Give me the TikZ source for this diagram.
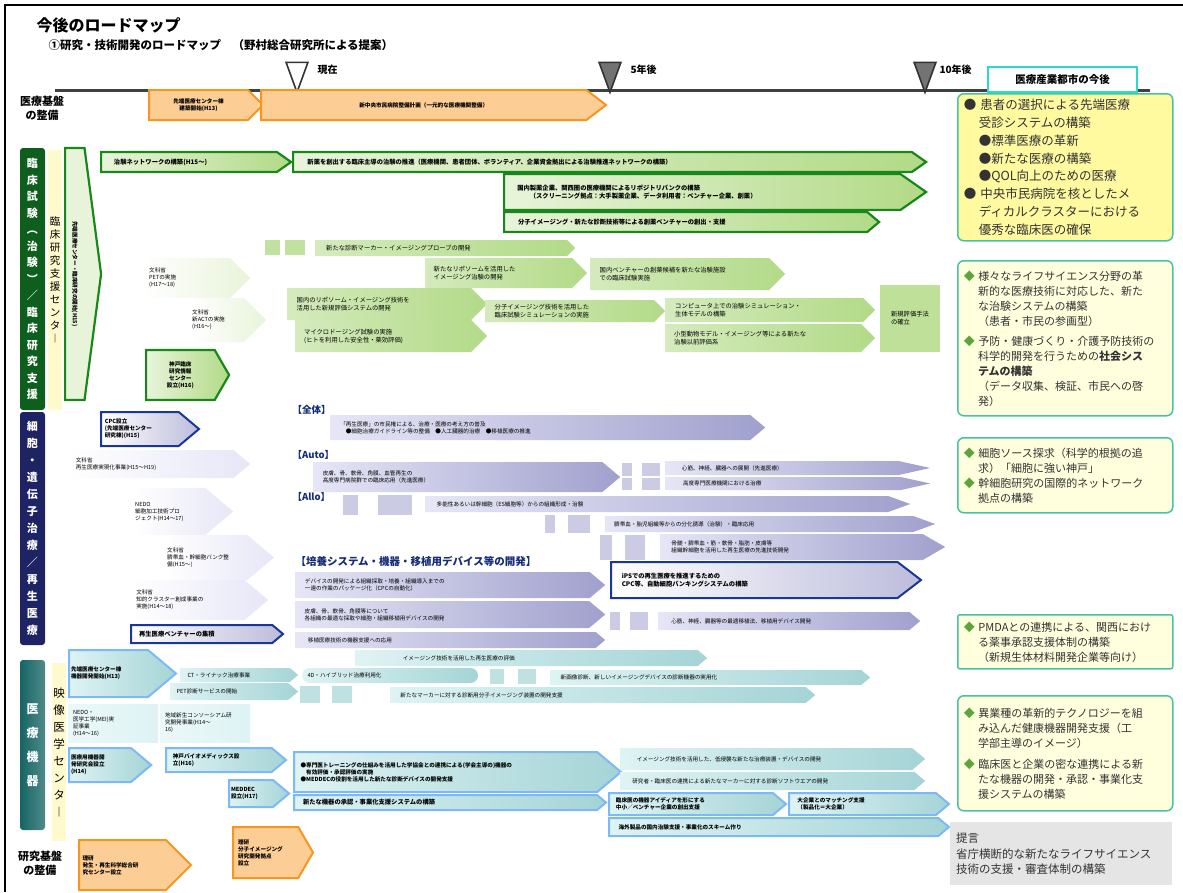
\documentclass[tikz,border=0pt]{standalone}
\usepackage{fontspec}
\setmainfont{Noto Sans CJK JP}
\usepackage{tikz}
\usetikzlibrary{shapes,shapes.symbols,shapes.geometric,positioning}
\definecolor{dgreen}{RGB}{14,95,30}
\definecolor{mgreen}{RGB}{25,135,25}
\definecolor{lgreen}{RGB}{178,218,135}
\definecolor{pgreen}{RGB}{232,244,218}
\definecolor{bgreen}{RGB}{90,165,60}
\definecolor{navy}{RGB}{30,35,100}
\definecolor{nborder}{RGB}{25,55,150}
\definecolor{lav}{RGB}{160,160,205}
\definecolor{plav}{RGB}{230,230,247}
\definecolor{dteal}{RGB}{22,100,100}
\definecolor{cborder}{RGB}{125,185,245}
\definecolor{lcyan}{RGB}{165,212,214}
\definecolor{pcyan}{RGB}{222,243,244}
\definecolor{orng}{RGB}{245,150,30}
\definecolor{lorng}{RGB}{253,205,150}
\definecolor{ryellow}{RGB}{255,250,160}
\definecolor{pyellow}{RGB}{255,255,222}
\definecolor{rteal}{RGB}{70,195,165}
\definecolor{strip}{RGB}{255,250,205}
\newcommand{\jpxs}{\fontsize{5.6}{7}\selectfont}
\newcommand{\jps}{\fontsize{6.3}{8}\selectfont}
\newcommand{\jpm}{\fontsize{11}{15}\selectfont}
\newcommand{\gdia}{\textcolor{bgreen}{◆}\ }
\tikzstyle{sect} = [rectangle, rounded corners=3pt, text=white, align=center, font=\fontsize{11}{16.5}\selectfont\bfseries]
\tikzstyle{stripbox} = [rectangle, fill=strip, align=center, inner sep=0pt]
\tikzstyle{obar} = [signal, signal to=east, anchor=west, signal pointer angle=90, draw=orng, line width=2pt, fill=lorng, font=\jpxs\bfseries, align=center, inner sep=2pt]
\tikzstyle{gbar} = [signal, signal to=east, anchor=west, signal pointer angle=70, draw=mgreen, line width=2.2pt, left color=pgreen, right color=lgreen, font=\jps\bfseries, align=left, inner sep=2pt]
\tikzstyle{lgbar} = [signal, signal to=east, anchor=west, signal pointer angle=90, left color=lgreen!55, right color=lgreen, font=\jps, align=left, inner sep=2pt]
\tikzstyle{lgsq} = [rectangle, fill=lgreen!80, inner sep=0pt]
\tikzstyle{nbar} = [signal, signal to=east, anchor=west, signal pointer angle=80, draw=nborder, line width=2pt, left color=white, right color=lav!70, font=\jps\bfseries, align=left, inner sep=2pt]
\tikzstyle{lbar} = [signal, signal to=east, anchor=west, signal pointer angle=80, left color=plav, right color=lav, font=\jps, align=left, inner sep=2pt]
\tikzstyle{pbar} = [signal, signal to=east, anchor=west, signal pointer angle=80, left color=white, right color=plav, font=\jps, align=left, inner sep=2pt]
\tikzstyle{lsq} = [rectangle, fill=lav!55, inner sep=0pt]
\tikzstyle{cbar} = [signal, signal to=east, anchor=west, signal pointer angle=80, draw=cborder, line width=2pt, left color=pcyan, right color=lcyan, font=\jps\bfseries, align=left, inner sep=2pt]
\tikzstyle{kbar} = [signal, signal to=east, anchor=west, signal pointer angle=80, left color=pcyan, right color=lcyan, font=\jps, align=left, inner sep=2pt]
\tikzstyle{ksq} = [rectangle, fill=lcyan!70, inner sep=0pt]
\tikzstyle{rbox} = [rectangle, rounded corners=6pt, draw=rteal, line width=1.5pt, fill=pyellow, anchor=north west, align=left, font=\jpm, text=black!80, inner sep=6pt]
\tikzstyle{yearmark} = [isosceles triangle, shape border rotate=270, isosceles triangle apex angle=40, minimum height=30pt, draw=black!80, line width=1.6pt, inner sep=0pt]
\tikzstyle{tlabel} = [font=\fontsize{10}{11}\selectfont\bfseries]
\tikzstyle{hlabel} = [anchor=west, font=\fontsize{9.5}{11}\selectfont\bfseries, text=nborder!80!black]

\begin{document}
\begin{tikzpicture}[x=1pt,y=-1pt]
\useasboundingbox (0,0) rectangle (1183,892);

% frame and titles =============================
\draw[line width=2pt] (1183,5) -- (5,5) -- (5,892);
\node[anchor=west, font=\fontsize{16}{18}\selectfont\bfseries] (title) at (33,25) {今後のロードマップ};
\node[anchor=west, font=\fontsize{11.5}{13}\selectfont\bfseries] (subtitle) at (45,45) {①研究・技術開発のロードマップ　（野村総合研究所による提案）};

% timeline
\coordinate (tl0) at (55,90);
\coordinate (tl1) at (1150,90);
\draw[line width=3pt, black!75] (tl0) -- (tl1);
\node[yearmark, fill=white] (now) at (297,70) {};
\node[yearmark, fill=black!55] (y5) at (610,70) {};
\node[yearmark, fill=black!55] (y10) at (925,70) {};
\node[tlabel, right=8pt of now] {現在};
\node[tlabel, right=8pt of y5] {5年後};
\node[tlabel, right=2pt of y10] {10年後};
\node[draw=rteal!60!cyan, line width=2pt, fill=white, minimum width=149pt, minimum height=25pt, font=\fontsize{10.5}{12}\selectfont\bfseries] (future) at (1062.5,79.5) {医療産業都市の今後};

% section labels =============================
\node[font=\fontsize{11}{14}\selectfont\bfseries, align=center] (base1) at (42,108) {医療基盤\\の整備};
\node[font=\fontsize{11}{14}\selectfont\bfseries, align=center] (base2) at (40,863) {研究基盤\\の整備};
\node[sect, fill=dgreen, minimum width=25pt, minimum height=262pt] (secclin) at (32.5,279) {臨\\床\\試\\験\\︵\\治\\験\\︶\\／\\臨\\床\\研\\究\\支\\援};
\node[sect, fill=navy, minimum width=25pt, minimum height=233pt, font=\fontsize{11}{17}\selectfont\bfseries] (seccell) at (32.5,528.5) {細\\胞\\・\\遺\\伝\\子\\治\\療\\／\\再\\生\\医\\療};
\node[sect, left color=dteal, right color=dteal!75, minimum width=25pt, minimum height=170pt, font=\fontsize{12}{24}\selectfont\bfseries] (secdev) at (32.5,745) {医\\療\\機\\器};
\node[stripbox, minimum width=14pt, minimum height=260pt, font=\fontsize{10.5}{13}\selectfont] (crsc) at (55,280) {臨\\床\\研\\究\\支\\援\\セ\\ン\\タ\\︱};
\node[stripbox, minimum width=14pt, minimum height=178pt, font=\fontsize{11.5}{17}\selectfont] (imgc) at (59,752) {映\\像\\医\\学\\セ\\ン\\タ\\︱};

% medical base (orange) =============================
\node[obar, minimum width=114pt, minimum height=30pt] (o1) at (148,105) {先端医療センター棟\\建築開始(H13)};
\node[obar, minimum width=345pt, minimum height=30pt, signal pointer angle=75] (o2) at (260,105) {新中央市民病院整備計画（一元的な医療機関整備）};

% clinical trials (green) =============================
\node[signal, signal to=east, anchor=west, signal pointer angle=165, draw=mgreen, line width=2.2pt, fill=pgreen, minimum width=36pt, minimum height=252pt] (gv) at (64,274) {};
\node[rotate=-90, font=\jpxs\bfseries] (gvtext) at (gv.center) {先端医療センター・臨床研究の開始(H15)};
\node[gbar, minimum width=190pt, minimum height=20pt, text width=150pt] (g1) at (100,162) {治験ネットワークの構築(H15〜)};
\node[gbar, minimum width=633pt, minimum height=20pt, text width=590pt] (g2) at (292,162) {新薬を創出する臨床主導の治験の推進（医療機関、患者団体、ボランティア、企業資金拠出による治験推進ネットワークの構築）};
\node[gbar, minimum width=422pt, minimum height=36pt, text width=370pt] (g3) at (503,192) {国内製薬企業、関西圏の医療機関によるリポジトリバンクの構築\\\hspace{2em}（スクリーニング拠点：大手製薬企業、データ利用者：ベンチャー企業、創薬）};
\node[gbar, minimum width=375pt, minimum height=20pt, text width=335pt, signal pointer angle=80] (g4) at (503,222) {分子イメージング・新たな診断技術等による創薬ベンチャーの創出・支援};
\node[gbar, minimum width=83pt, minimum height=50pt, signal pointer angle=120, align=center, font=\jpxs\bfseries] (gk) at (145,375) {神戸臨床\\研究情報\\センター\\設立(H16)};

\node[lgsq, minimum width=15pt, minimum height=15pt] (lgs1) at (272.5,247.5) {};
\node[lgsq, minimum width=20pt, minimum height=15pt] (lgs2) at (295,247.5) {};
\node[lgbar, minimum width=260pt, minimum height=16pt, text width=230pt] (lg1) at (315,248) {新たな診断マーカー・イメージングプローブの開発};
\node[lgbar, left color=white, right color=pgreen, minimum width=107pt, minimum height=40pt, text width=75pt, font=\jpxs] (lg2) at (143,278) {文科省\\PETの実施\\(H17〜18)};
\node[lgbar, minimum width=162pt, minimum height=30pt, text width=130pt] (lg3) at (425,273) {新たなリポソームを活用した\\イメージング治験の開発};
\node[lgbar, minimum width=195pt, minimum height=32pt, text width=160pt] (lg4) at (590,274) {国内ベンチャーの創薬候補を新たな治験施設\\での臨床試験実施};
\node[lgbar, left color=white, right color=pgreen, minimum width=75pt, minimum height=44pt, text width=50pt, font=\jpxs] (lg5) at (190,320) {文科省\\新ACTの実施\\(H16〜)};
\node[lgbar, minimum width=200pt, minimum height=32pt, text width=165pt] (lg6) at (287,304) {国内のリポソーム・イメージング技術を\\活用した新規評価システムの開発};
\node[lgbar, minimum width=180pt, minimum height=22pt, text width=150pt] (lg7) at (485,311) {分子イメージング技術を活用した\\臨床試験シミュレーションの実施};
\node[lgbar, minimum width=210pt, minimum height=24pt, text width=178pt] (lg8) at (665,310) {コンピュータ上での治験シミュレーション・\\生体モデルの構築};
\node[lgbar, minimum width=192pt, minimum height=32pt, text width=158pt] (lg9) at (295,336) {マイクロドージング試験の実施\\(ヒトを利用した安全性・薬効評価)};
\node[lgbar, minimum width=210pt, minimum height=28pt, text width=178pt] (lg10) at (665,338) {小型動物モデル・イメージング等による新たな\\治験以前評価系};
\node[rectangle, fill=lgreen!85, minimum width=60pt, minimum height=67pt, font=\jps, align=left] (lg11) at (910,318.5) {新規評価手法\\の確立};

% cell / gene therapy (navy) =============================
\node[nbar, minimum width=98pt, minimum height=34pt, text width=70pt, font=\jpxs\bfseries] (n1) at (100,429) {CPC設立\\(先端医療センター\\研究棟)(H15)};
\node[pbar, minimum width=182pt, minimum height=28pt, text width=150pt, font=\jpxs] (l1) at (68,464) {文科省\\再生医療実現化事業(H15〜H19)};
\node[pbar, minimum width=97pt, minimum height=47pt, text width=68pt, font=\jpxs] (l2) at (133,511.5) {NEDO\\細胞加工技術プロ\\ジェクト(H14〜17)};
\node[pbar, minimum width=107pt, minimum height=45pt, text width=78pt, font=\jpxs] (l3) at (165,557.5) {文科省\\臍帯血・幹細胞バンク整\\備(H15〜)};
\node[pbar, minimum width=135pt, minimum height=40pt, text width=105pt, font=\jpxs] (l4) at (133,600) {文科省\\知的クラスター創成事業の\\実施(H14〜18)};
\node[nbar, minimum width=152pt, minimum height=18pt, text width=125pt] (n2) at (130,634) {再生医療ベンチャーの集積};

\node[hlabel] (hall) at (289,410) {【全体】};
\node[hlabel] (hauto) at (289,455) {【Auto】};
\node[hlabel] (hallo) at (289,497) {【Allo】};
\node[hlabel, font=\fontsize{10.5}{12}\selectfont\bfseries] (hdev) at (292,561) {【培養システム・機器・移植用デバイス等の開発】};

\node[lbar, minimum width=435pt, minimum height=25pt, text width=400pt, font=\jpxs] (b1) at (330,427.5) {「再生医療」の市民権による、治療・医療の考え方の普及\\\hspace{1em}●細胞治療ガイドライン等の整備\quad ●人工臓器的治療\quad ●移植医療の推進};
\node[lbar, minimum width=307pt, minimum height=30pt, text width=270pt, font=\jpxs] (b2) at (313,477) {皮膚、骨、軟骨、角膜、血管再生の\\高度専門病院群での臨床応用（先進医療）};
\node[lsq, minimum width=10pt, minimum height=13pt] (as1) at (627,469) {};
\node[lsq, minimum width=18pt, minimum height=13pt] (as2) at (651,469) {};
\node[lsq, minimum width=10pt, minimum height=12pt] (as3) at (627,484) {};
\node[lsq, minimum width=18pt, minimum height=12pt] (as4) at (651,484) {};
\node[lbar, minimum width=265pt, minimum height=14pt, text width=200pt, signal pointer angle=25, font=\jpxs] (b3) at (665,468) {心筋、神経、臓器への展開（先進医療）};
\node[lbar, minimum width=265pt, minimum height=13pt, text width=200pt, signal pointer angle=25, font=\jpxs] (b4) at (665,483.5) {高度専門医療機関における治療};
\node[lsq, minimum width=15pt, minimum height=20pt] (ls1) at (350.5,505) {};
\node[lsq, minimum width=34pt, minimum height=20pt] (ls2) at (395,505) {};
\node[lbar, minimum width=485pt, minimum height=16pt, text width=440pt, signal pointer angle=40, font=\jpxs] (b5) at (425,504) {多能性あるいは幹細胞（ES細胞等）からの組織形成・治験};
\node[lsq, minimum width=10pt, minimum height=18pt] (ls3) at (550,524) {};
\node[lsq, minimum width=22pt, minimum height=18pt] (ls4) at (579,524) {};
\node[lbar, minimum width=330pt, minimum height=16pt, text width=290pt, signal pointer angle=40, font=\jpxs] (b6) at (605,524) {臍帯血・胎児組織等からの分化誘導（治験）・臨床応用};
\node[lsq, minimum width=12pt, minimum height=25pt] (ls5) at (606,547.5) {};
\node[lsq, minimum width=20pt, minimum height=25pt] (ls6) at (635,547.5) {};
\node[lbar, minimum width=285pt, minimum height=26pt, text width=240pt, signal pointer angle=60, font=\jpxs] (b7) at (660,547) {骨髄・臍帯血・筋・軟骨・脂肪・皮膚等\\組織幹細胞を活用した再生医療の先進技術開発};
\node[lbar, minimum width=310pt, minimum height=26pt, text width=275pt, font=\jpxs] (b8) at (295,585) {デバイスの開発による組織採取・培養・組織導入までの\\一連の作業のパッケージ化（CPCの自動化）};
\node[nbar, minimum width=310pt, minimum height=36pt, text width=265pt, signal pointer angle=75] (n3) at (610,580) {iPSでの再生医療を推進するための\\CPC等、自動細胞バンキングシステムの構築};
\node[lbar, minimum width=310pt, minimum height=27pt, text width=275pt, font=\jpxs] (b9) at (295,614.5) {皮膚、骨、軟骨、角膜等について\\各組織の最適な採取や細胞・組織移植用デバイスの開発};
\node[lsq, minimum width=10pt, minimum height=18pt] (ls7) at (615,621) {};
\node[lsq, minimum width=18pt, minimum height=18pt] (ls8) at (639,621) {};
\node[lbar, minimum width=262pt, minimum height=18pt, text width=225pt, font=\jpxs] (b10) at (658,621) {心筋、神経、臓器等の最適移植法、移植用デバイス開発};
\node[lbar, minimum width=310pt, minimum height=16pt, text width=275pt, font=\jpxs] (b11) at (295,640) {移植医療技術の機器支援への応用};

% medical devices (teal) =============================
\node[cbar, minimum width=104pt, minimum height=47pt, text width=75pt, font=\jpxs\bfseries] (c1) at (68,673.5) {先端医療センター棟\\機器開発開始(H13)};
\node[kbar, minimum width=118pt, minimum height=14pt, text width=95pt, font=\jpxs] (k1) at (180,675) {CT・ライナック治療事業};
\node[kbar, minimum width=128pt, minimum height=17pt, text width=105pt, font=\jpxs] (k2) at (170,691.5) {PET診断サービスの開始};
\node[kbar, minimum width=352pt, minimum height=16pt, text width=320pt, font=\jpxs] (k3) at (355,658) {\hspace{6.5em}イメージング技術を活用した再生医療の評価};
\node[rounded rectangle, left color=pcyan, right color=lcyan, minimum width=180pt, minimum height=15pt, text width=165pt, font=\jpxs, align=left, inner sep=2pt] (k4) at (390,675.5) {4D・ハイブリッド治療利用化};
\node[ksq, minimum width=14pt, minimum height=15pt] (ks1) at (497,676) {};
\node[ksq, minimum width=18pt, minimum height=15pt] (ks2) at (527,676) {};
\node[kbar, minimum width=320pt, minimum height=15pt, text width=290pt, font=\jpxs] (k5) at (550,677.5) {新画像診断、新しいイメージングデバイスの診断機器の実用化};
\node[ksq, minimum width=20pt, minimum height=17pt] (ks3) at (310,694.5) {};
\node[ksq, minimum width=20pt, minimum height=17pt] (ks4) at (342,694.5) {};
\node[kbar, minimum width=425pt, minimum height=16pt, text width=395pt, font=\jpxs] (k6) at (390,695) {新たなマーカーに対する診断用分子イメージング装置の開発支援};
\node[rectangle, left color=pcyan!60, right color=pcyan, minimum width=90pt, minimum height=38pt, text width=80pt, font=\jpxs, align=left] (k7) at (113,723) {NEDO・\\医学工学(MEI)実\\証事業\\(H14〜16)};
\node[rectangle, left color=pcyan!60, right color=pcyan, minimum width=90pt, minimum height=38pt, text width=80pt, font=\jpxs, align=left] (k8) at (205,723) {地域新生コンソーシアム研\\究開発事業(H14〜\\16)};
\node[cbar, minimum width=82pt, minimum height=34pt, text width=58pt, font=\jpxs\bfseries] (c2) at (68,765) {医療用機器開\\発研究会設立\\(H14)};
\node[cbar, minimum width=120pt, minimum height=24pt, text width=92pt, font=\jpxs\bfseries] (c3) at (165,760) {神戸バイオメディックス設\\立(H16)};
\node[cbar, minimum width=57pt, minimum height=27pt, text width=40pt, font=\jpxs\bfseries] (c4) at (228,793.5) {MEDDEC\\設立(H17)};
\node[cbar, minimum width=327pt, minimum height=40pt, text width=290pt, font=\jpxs\bfseries] (c5) at (293,772) {●専門医トレーニングの仕組みを活用した学協会との連携による(学会主導の)機器の\\\hspace{1em}有効評価・承認評価の実施\\●MEDDECの役割を活用した新たな診断デバイスの開発支援};
\node[cbar, minimum width=312pt, minimum height=15pt, text width=285pt] (c6) at (293,802.5) {新たな機器の承認・事業化支援システムの構築};
\node[kbar, minimum width=305pt, minimum height=22pt, text width=270pt, font=\jpxs] (k9) at (620,759) {\hspace{1em}イメージング技術を活用した、低侵襲な新たな治療装置・デバイスの開発};
\node[kbar, minimum width=305pt, minimum height=18pt, text width=270pt, font=\jpxs] (k10) at (620,781) {研究者・臨床医の連携による新たなマーカーに対する診断ソフトウエアの開発};
\node[cbar, minimum width=177pt, minimum height=22pt, text width=150pt, font=\jpxs\bfseries] (c7) at (608,804) {臨床医の機器アイディアを形にする\\中小／ベンチャー企業の創出支援};
\node[cbar, minimum width=160pt, minimum height=22pt, text width=130pt, font=\jpxs\bfseries] (c8) at (788,804) {大企業とのマッチング支援\\（製品化＝大企業）};
\node[cbar, minimum width=340pt, minimum height=18pt, text width=310pt, font=\jpxs\bfseries] (c9) at (608,827) {海外製品の国内治験支援・事業化のスキーム作り};

% research base (orange) =============================
\node[obar, minimum width=112pt, minimum height=50pt, text width=80pt, align=left] (r1) at (78,865) {理研\\発生・再生科学総合研\\究センター設立};
\node[obar, minimum width=80pt, minimum height=51pt, text width=55pt, align=left, signal pointer angle=120] (r2) at (232,852.5) {理研\\分子イメージング\\研究開発拠点\\設立};

% future boxes =============================
\node[rbox, fill=ryellow, minimum width=215pt, minimum height=147pt, text width=203pt, inner sep=4pt, font=\fontsize{12.5}{17.8}\selectfont] (fut1) at (957,93) {● 患者の選択による先端医療\\\hspace{1.2em}受診システムの構築\\\hspace{1.2em}●標準医療の革新\\\hspace{1.2em}●新たな医療の構築\\\hspace{1.2em}●QOL向上のための医療\\● 中央市民病院を核としたメ\\\hspace{1.2em}ディカルクラスターにおける\\\hspace{1.2em}優秀な臨床医の確保};
\node[rbox, minimum width=215pt, minimum height=155pt, text width=203pt, inner sep=4pt] (fut2) at (957,260) {\gdia 様々なライフサイエンス分野の革\\\hspace{1.3em}新的な医療技術に対応した、新た\\\hspace{1.3em}な治験システムの構築\\\hspace{1.3em}（患者・市民の参画型）\\[5pt]\gdia 予防・健康づくり・介護予防技術の\\\hspace{1.3em}科学的開発を行うための\textbf{社会シス}\\\hspace{1.3em}\textbf{テムの構築}\\\hspace{1.3em}（データ収集、検証、市民への啓\\\hspace{1.3em}発）};
\node[rbox, minimum width=215pt, minimum height=75pt, text width=203pt, inner sep=4pt] (fut3) at (957,437) {\gdia 細胞ソース探求（科学的根拠の追\\\hspace{1.3em}求）「細胞に強い神戸」\\\gdia 幹細胞研究の国際的ネットワーク\\\hspace{1.3em}拠点の構築};
\node[rbox, rounded corners=2pt, minimum width=215pt, minimum height=54pt, text width=203pt, inner sep=4pt] (fut4) at (957,614) {\gdia PMDAとの連携による、関西におけ\\\hspace{1.3em}る薬事承認支援体制の構築\\\hspace{1.3em}（新規生体材料開発企業等向け）};
\node[rbox, minimum width=215pt, minimum height=115pt, text width=203pt, inner sep=4pt] (fut5) at (957,695) {\gdia 異業種の革新的テクノロジーを組\\\hspace{1.3em}み込んだ健康機器開発支援（工\\\hspace{1.3em}学部主導のイメージ）\\[6pt]\gdia 臨床医と企業の密な連携による新\\\hspace{1.3em}たな機器の開発・承認・事業化支\\\hspace{1.3em}援システムの構築};
\node[rectangle, fill=black!10, anchor=north west, minimum width=222pt, minimum height=63pt, text width=210pt, align=left, font=\fontsize{11.5}{15.5}\selectfont, text=black!80] (prop) at (950,822) {提言\\省庁横断的な新たなライフサイエンス\\技術の支援・審査体制の構築};

\end{tikzpicture}
\end{document}
